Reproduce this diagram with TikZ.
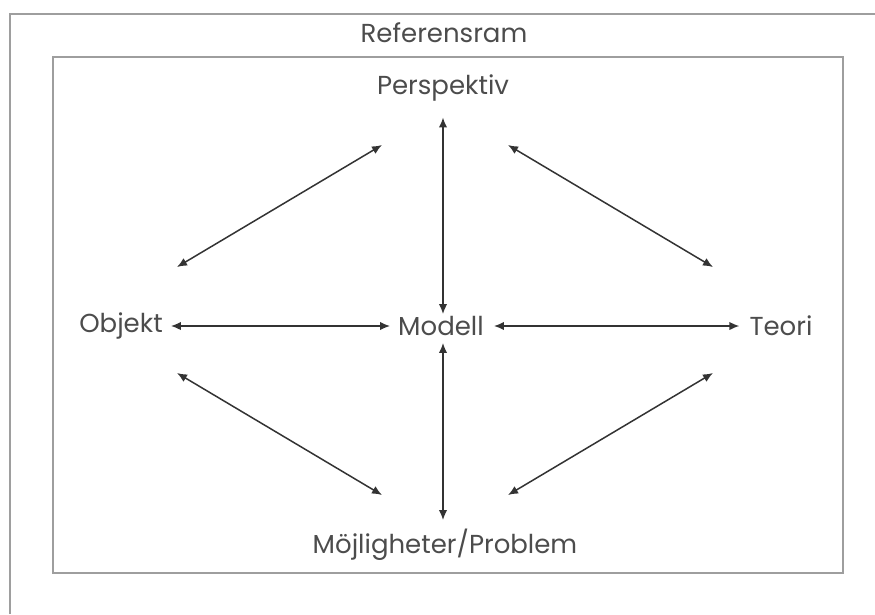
\documentclass[tikz,border=0pt]{standalone}
\usepackage{fontspec}
\setmainfont{Poppins}
\usetikzlibrary{arrows.meta}
\tikzset{
  frame/.style = { draw=black!38, line width=1.6pt },
  link/.style  = { {Latex[length=10pt,width=8.5pt]}-{Latex[length=10pt,width=8.5pt]}, line width=1.5pt, draw=black!80 },
  label/.style = { text=black!70, font=\fontsize{26}{30}\selectfont, inner sep=0pt }
}

\begin{document}
\begin{tikzpicture}[x=1pt,y=-1pt]
  \useasboundingbox (0,0) rectangle (875,614);
  % Draw frames
  \draw[frame] (10,614) -- (10,14) -- (875,14);
  \draw[frame] (53,57) rectangle (843,573);
  % Draw labels
  \node[label] (ram)    at (444,33)  {Referensram};
  \node[label] (persp)  at (443,88)  {Perspektiv};
  \node[label] (objekt) at (121,326) {Objekt};
  \node[label] (modell) at (441,326) {Modell};
  \node[label] (teori)  at (781,326) {Teori};
  \node[label] (moj)    at (445,545) {Möjligheter/Problem};
  % Ends of the slanted links
  \coordinate (ulo) at (177,267);
  \coordinate (ulp) at (382,145);
  \coordinate (urp) at (508,145);
  \coordinate (urt) at (713,267);
  \coordinate (llo) at (177,373);
  \coordinate (llm) at (382,495);
  \coordinate (lrm) at (508,495);
  \coordinate (lrt) at (713,373);
  % Draw links
  \draw[link, shorten <=16pt, shorten >=2pt] (persp.south) -- (persp.south |- modell.north);
  \draw[link, shorten <=7pt, shorten >=9pt] (persp.south |- modell.south) -- (persp.south |- moj.north);
  \draw[link, shorten <=8pt, shorten >=8pt] (objekt.east) -- (modell.west);
  \draw[link, shorten <=10pt, shorten >=10pt] (modell.east) -- (teori.west);
  \draw[link] (ulo) -- (ulp);
  \draw[link] (urp) -- (urt);
  \draw[link] (llo) -- (llm);
  \draw[link] (lrm) -- (lrt);
\end{tikzpicture}
\end{document}
